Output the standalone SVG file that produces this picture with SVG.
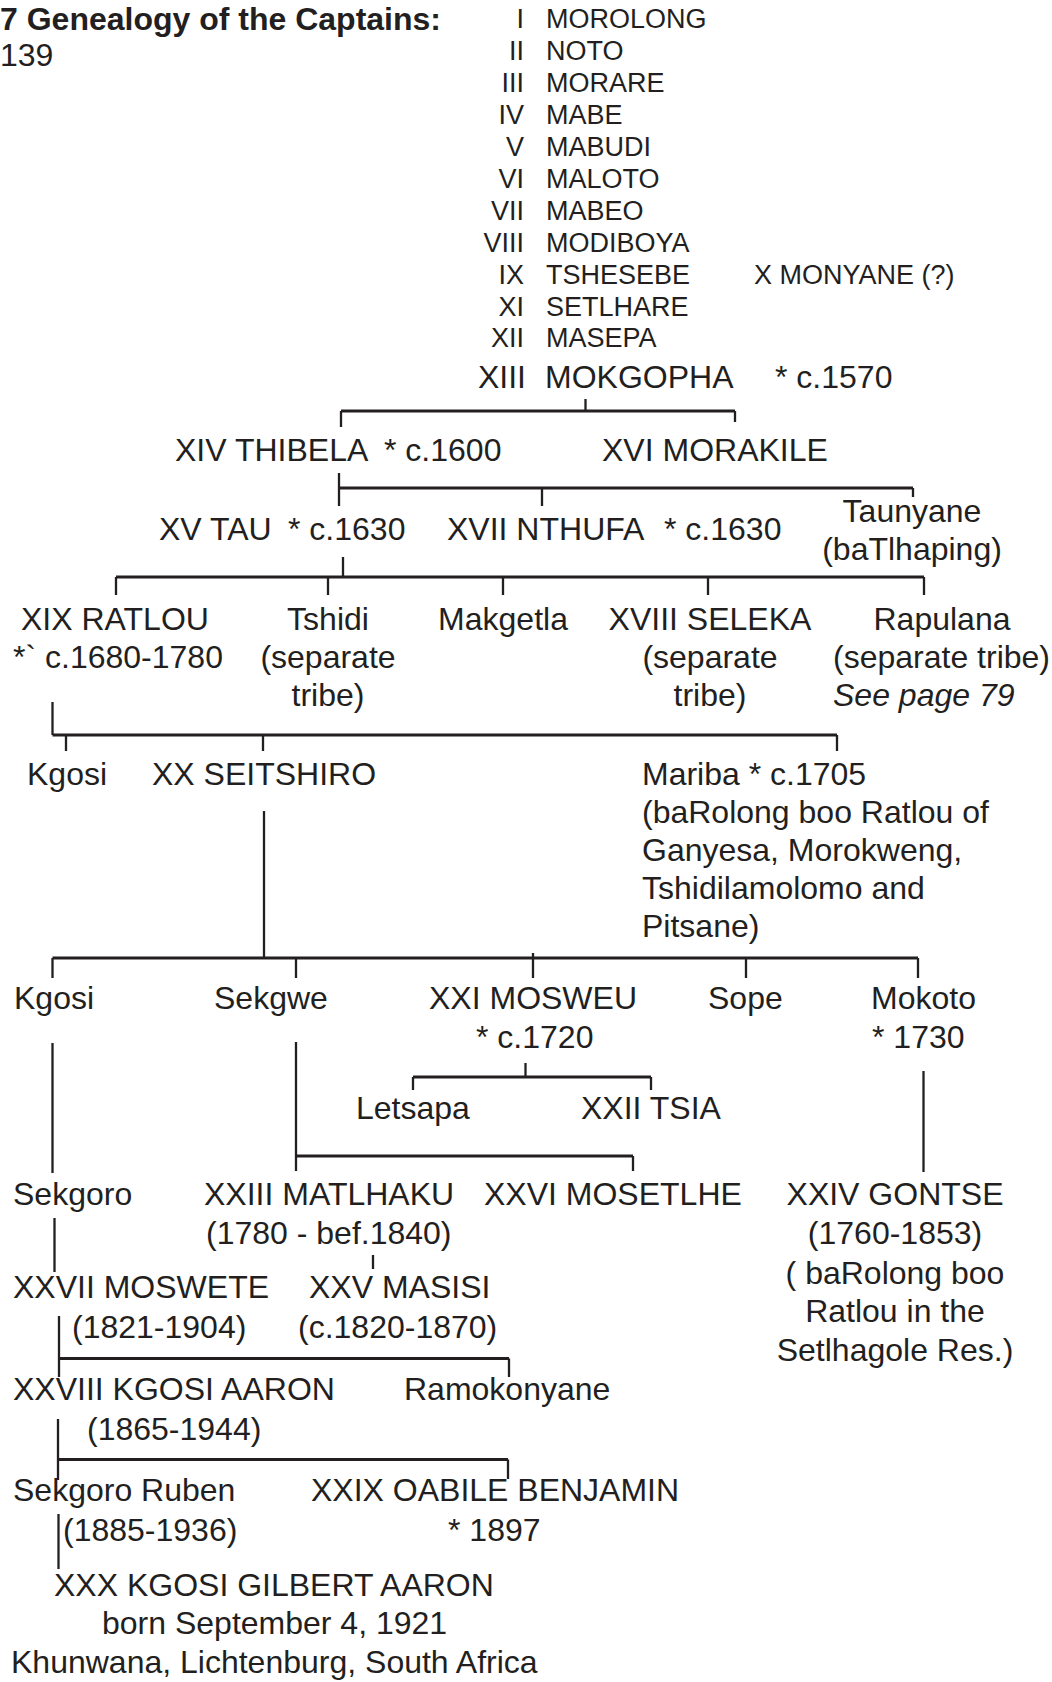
<svg xmlns="http://www.w3.org/2000/svg" width="1052" height="1682" viewBox="0 0 1052 1682">
<style>
text{font-family:"Liberation Sans",Arial,Helvetica,sans-serif;font-size:32px;fill:#231f20}
.b{font-weight:bold}
.c{font-size:27px}
.e{text-anchor:end}
.m{text-anchor:middle}
.i{font-style:italic}
#connectors path{stroke:#231f20;stroke-width:2.3;fill:none}
#connectors path.h{stroke-width:2.8}
</style>
<rect width="1052" height="1682" fill="#fff"/>
<g id="title">
<text class="b" x="0" y="30">7 Genealogy of the Captains:</text>
<text x="0" y="66">139</text>
</g>
<g id="n-I"><text class="c e" x="524" y="28">I</text><text class="c" x="546" y="28">MOROLONG</text></g>
<g id="n-II"><text class="c e" x="524" y="60">II</text><text class="c" x="546" y="60">NOTO</text></g>
<g id="n-III"><text class="c e" x="524" y="92">III</text><text class="c" x="546" y="92">MORARE</text></g>
<g id="n-IV"><text class="c e" x="524" y="124">IV</text><text class="c" x="546" y="124">MABE</text></g>
<g id="n-V"><text class="c e" x="524" y="156">V</text><text class="c" x="546" y="156">MABUDI</text></g>
<g id="n-VI"><text class="c e" x="524" y="188">VI</text><text class="c" x="546" y="188">MALOTO</text></g>
<g id="n-VII"><text class="c e" x="524" y="220">VII</text><text class="c" x="546" y="220">MABEO</text></g>
<g id="n-VIII"><text class="c e" x="524" y="252">VIII</text><text class="c" x="546" y="252">MODIBOYA</text></g>
<g id="n-IX"><text class="c e" x="524" y="284">IX</text><text class="c" x="546" y="284">TSHESEBE</text></g>
<g id="n-X"><text class="c" x="754" y="284">X MONYANE (?)</text></g>
<g id="n-XI"><text class="c e" x="524" y="316">XI</text><text class="c" x="546" y="316">SETLHARE</text></g>
<g id="n-XII"><text class="c e" x="524" y="347">XII</text><text class="c" x="546" y="347">MASEPA</text></g>
<g id="n-XIII"><text class="e" x="526" y="388">XIII</text><text x="545" y="388">MOKGOPHA</text><text x="775" y="388">* c.1570</text></g>
<g id="n-XIV"><text x="175" y="461">XIV THIBELA</text><text x="384" y="461">* c.1600</text></g>
<g id="n-XVI"><text x="602" y="461">XVI MORAKILE</text></g>
<g id="n-XV"><text x="159" y="540">XV TAU</text><text x="288" y="540">* c.1630</text></g>
<g id="n-XVII"><text x="447" y="540">XVII NTHUFA</text><text x="664" y="540">* c.1630</text></g>
<g id="n-taunyane"><text class="m" x="912" y="522">Taunyane</text><text class="m" x="912" y="560">(baTlhaping)</text></g>
<g id="n-XIX"><text x="21" y="630">XIX RATLOU</text><text x="13" y="668">*` c.1680-1780</text></g>
<g id="n-tshidi"><text class="m" x="328" y="630">Tshidi</text><text class="m" x="328" y="668">(separate</text><text class="m" x="328" y="706">tribe)</text></g>
<g id="n-makgetla"><text class="m" x="503" y="630">Makgetla</text></g>
<g id="n-XVIII"><text class="m" x="710" y="630">XVIII SELEKA</text><text class="m" x="710" y="668">(separate</text><text class="m" x="710" y="706">tribe)</text></g>
<g id="n-rapulana"><text class="m" x="942" y="630">Rapulana</text><text x="833" y="668">(separate tribe)</text><text class="i" x="833" y="706">See page 79</text></g>
<g id="n-kgosi1"><text x="27" y="785">Kgosi</text></g>
<g id="n-XX"><text x="152" y="785">XX SEITSHIRO</text></g>
<g id="n-mariba"><text x="642" y="785">Mariba * c.1705</text><text x="642" y="823">(baRolong boo Ratlou of</text><text x="642" y="861">Ganyesa, Morokweng,</text><text x="642" y="899">Tshidilamolomo and</text><text x="642" y="937">Pitsane)</text></g>
<g id="n-kgosi2"><text x="14" y="1009">Kgosi</text></g>
<g id="n-sekgwe"><text x="214" y="1009">Sekgwe</text></g>
<g id="n-XXI"><text x="429" y="1009">XXI MOSWEU</text><text x="476" y="1048">* c.1720</text></g>
<g id="n-sope"><text x="708" y="1009">Sope</text></g>
<g id="n-mokoto"><text x="871" y="1009">Mokoto</text><text x="872" y="1048">* 1730</text></g>
<g id="n-letsapa"><text x="356" y="1119">Letsapa</text></g>
<g id="n-XXII"><text x="581" y="1119">XXII TSIA</text></g>
<g id="n-sekgoro"><text x="13" y="1205">Sekgoro</text></g>
<g id="n-XXIII"><text x="204" y="1205">XXIII MATLHAKU</text><text x="206" y="1244">(1780 - bef.1840)</text></g>
<g id="n-XXVI"><text x="484" y="1205">XXVI MOSETLHE</text></g>
<g id="n-XXIV"><text class="m" x="895" y="1205">XXIV GONTSE</text><text class="m" x="895" y="1244">(1760-1853)</text><text class="m" x="895" y="1284">( baRolong boo</text><text class="m" x="895" y="1322">Ratlou in the</text><text class="m" x="895" y="1361">Setlhagole Res.)</text></g>
<g id="n-XXVII"><text x="13" y="1298">XXVII MOSWETE</text><text x="72" y="1338">(1821-1904)</text></g>
<g id="n-XXV"><text x="309" y="1298">XXV MASISI</text><text x="298" y="1338">(c.1820-1870)</text></g>
<g id="n-XXVIII"><text x="13" y="1400">XXVIII KGOSI AARON</text><text x="87" y="1440">(1865-1944)</text></g>
<g id="n-ramokonyane"><text x="404" y="1400">Ramokonyane</text></g>
<g id="n-ruben"><text x="13" y="1501">Sekgoro Ruben</text><text x="63" y="1541">(1885-1936)</text></g>
<g id="n-XXIX"><text x="311" y="1501">XXIX OABILE BENJAMIN</text><text x="448" y="1541">* 1897</text></g>
<g id="n-XXX"><text x="54" y="1596">XXX KGOSI GILBERT AARON</text><text x="102" y="1634">born September 4, 1921</text><text x="11" y="1673">Khunwana, Lichtenburg, South Africa</text></g>
<g id="connectors">
<path d="M585.5 399V411"/>
<path class="h" d="M341 411H735"/>
<path d="M341 411V427M735 411V422"/>
<path d="M339 473V506"/>
<path class="h" d="M339 488H913"/>
<path d="M542 488V506M913 488V497"/>
<path d="M343 557V577"/>
<path class="h" d="M116 577H924"/>
<path d="M116 577V595M328 577V595M503 577V595M708 577V595M924 577V595"/>
<path d="M52.5 702V735"/>
<path class="h" d="M52.5 735H837"/>
<path d="M66 735V751M263 735V751M837 735V751"/>
<path d="M264 811V958"/>
<path class="h" d="M52.5 958H918"/>
<path d="M52.5 958V978M296 958V978M533 953V978M746 958V978M918 958V978"/>
<path d="M52.5 1043V1173M296 1042V1171"/>
<path d="M525.5 1063V1077"/>
<path class="h" d="M413 1077H651"/>
<path d="M413 1077V1090M651 1077V1090"/>
<path d="M923.5 1071V1172"/>
<path class="h" d="M296 1156H633"/>
<path d="M633 1156V1171"/>
<path d="M54.5 1218V1272"/>
<path d="M373 1255V1269"/>
<path d="M59 1316V1377"/>
<path class="h" d="M59 1358.5H509"/>
<path d="M509 1358.5V1377"/>
<path d="M58 1419V1480"/>
<path class="h" d="M58 1459.5H508"/>
<path d="M508 1459.5V1479"/>
<path d="M58.5 1514V1569"/>
</g>
</svg>
